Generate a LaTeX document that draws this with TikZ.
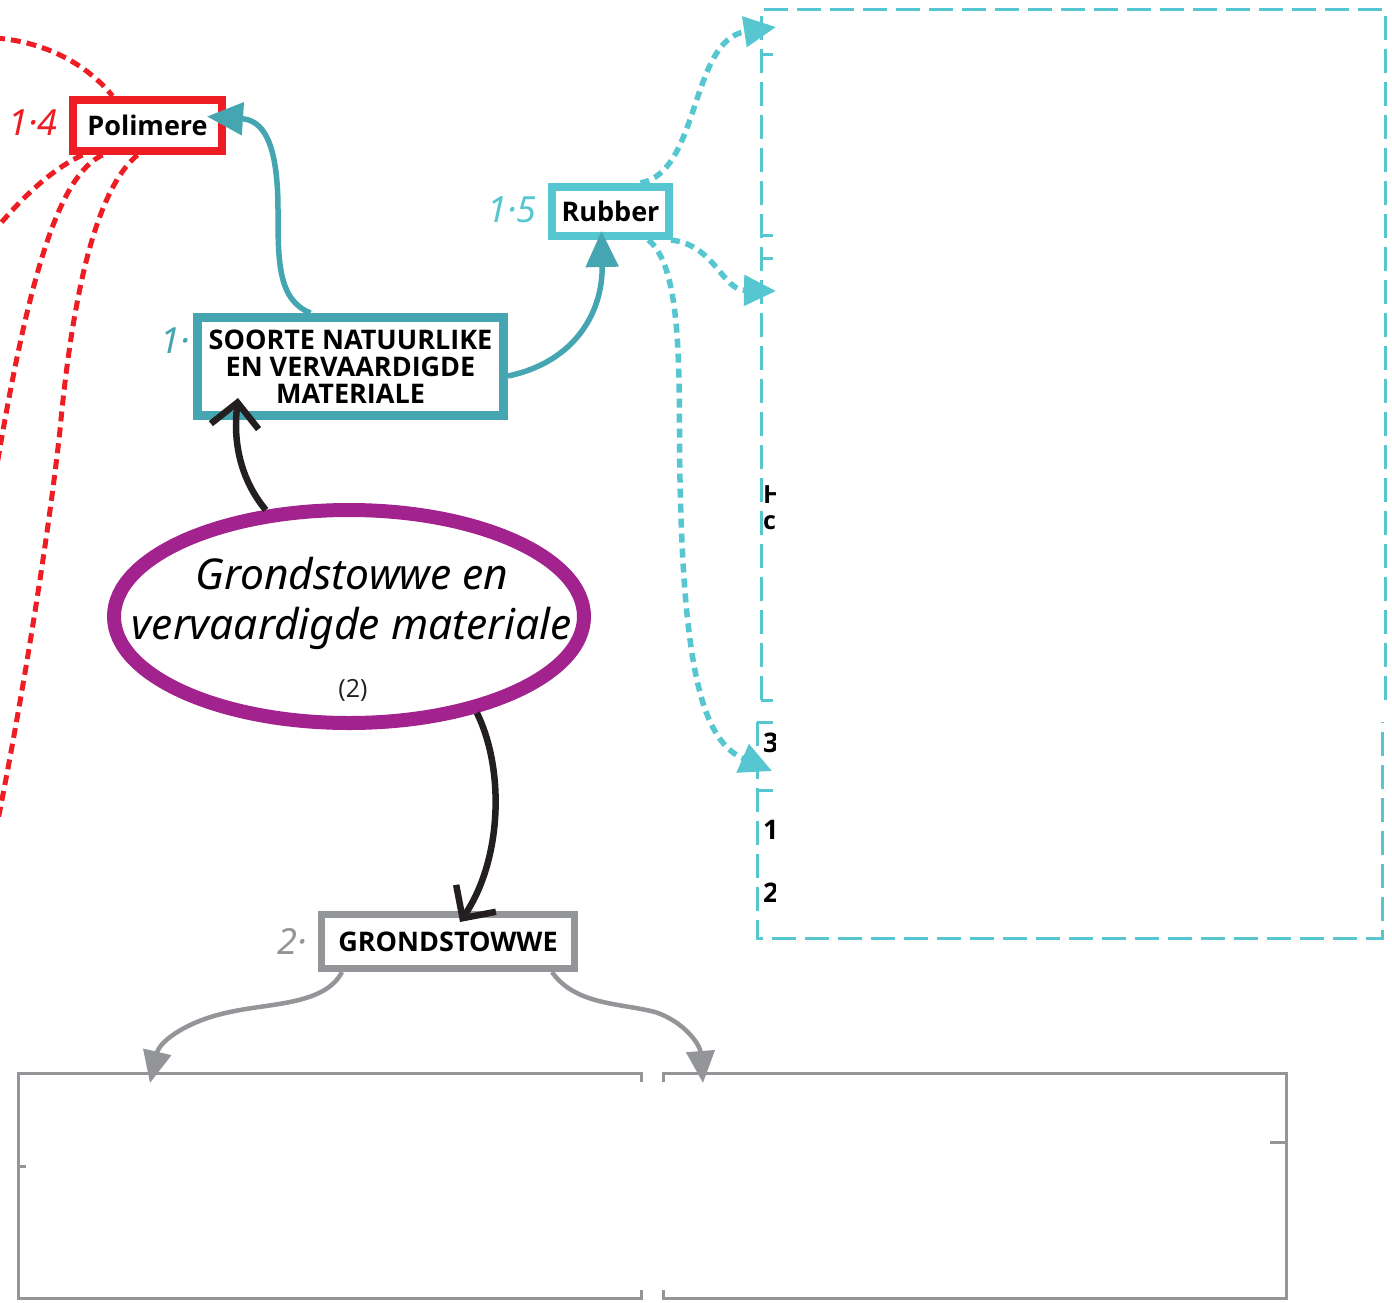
\documentclass[tikz,border=0pt]{standalone}
\usepackage{fontspec}
\setmainfont{Open Sans}
\newfontfamily\handfont{Noto Sans}
\usetikzlibrary{arrows.meta,shapes.geometric}
\definecolor{cred}{HTML}{EE1D23}
\definecolor{cteal}{HTML}{45A5B0}
\definecolor{ccyan}{HTML}{56C6D0}
\definecolor{cgray}{HTML}{939598}
\definecolor{cpurp}{HTML}{A2238E}
\definecolor{cblk}{HTML}{231F20}
\tikzset{
  box/.style={draw, fill=white, inner sep=0pt, align=center, text=black,
    font=\fontsize{27}{27}\selectfont\bfseries},
  numlbl/.style={font=\handfont\fontsize{36}{36}\selectfont\itshape, inner sep=0pt},
  tealarr/.style={draw=cteal, line width=5.5pt, -{Triangle[length=36pt,width=32pt]}},
  cyanarr/.style={draw=ccyan, line width=5.5pt, dash pattern=on 9pt off 6pt,
    -{Triangle[length=32pt,width=30pt]}},
  grayarr/.style={draw=cgray, line width=4.5pt, -{Triangle[length=32pt,width=28pt]}},
  blkarr/.style={draw=cblk, line width=6.5pt,
    -{Straight Barb[length=24pt,width=48pt,line width=6.5pt]}},
  reddot/.style={draw=cred, line width=5pt, dash pattern=on 10pt off 6pt},
  frame/.style={draw=ccyan, line width=3pt, dash pattern=on 24pt off 9pt},
  tick/.style={draw=ccyan, line width=3pt},
  gframe/.style={draw=cgray, line width=3pt},
  frag/.style={inner sep=0pt, font=\fontsize{27}{27}\selectfont\bfseries},
}
\begin{document}
\begin{tikzpicture}[x=1pt,y=-1pt]
\useasboundingbox[fill=white] (0,0) rectangle (1392,1303);

% ---- dashed cyan frames (right) ----
\draw[frame] (761,700) -- (761,10) -- (1385,10) -- (1385,700);
\draw[tick] (761,55) -- (773,55);
\draw[tick] (761,235) -- (773,235);
\draw[tick] (761,258) -- (773,258);
\draw[tick] (761,700) -- (773,700);
\draw[frame] (757,722) -- (757,938) -- (1382,938) -- (1382,722);
\draw[tick] (757,722) -- (773,722);
\draw[tick] (757,790) -- (773,790);
\begin{scope}
  \clip (762,460) rectangle (775,910);
  \node[frag, anchor=base west] (g3) at (763,752) {3};
  \node[frag, anchor=base west] (g1) at (763,839) {1};
  \node[frag, anchor=base west] (g2) at (763,902) {2};
  \node[frag, anchor=north west, align=left, font=\fontsize{25}{26}\selectfont\bfseries] (ghc) at (763,485) {H\\c};
\end{scope}

% ---- bottom gray frames ----
\draw[gframe] (641,1082) -- (641,1073) -- (18,1073) -- (18,1298) -- (641,1298) -- (641,1290);
\draw[gframe] (18,1166) -- (26,1166);
\draw[gframe] (663,1082) -- (663,1073) -- (1286,1073) -- (1286,1298) -- (663,1298) -- (663,1290);
\draw[gframe] (1270,1142) -- (1286,1142);

% ---- nodes ----
\node[box, draw=cred, line width=8pt, minimum width=149pt, minimum height=51pt] (pol) at (147.5,125.5) {Polimere};
\node[box, draw=cteal, line width=9pt, minimum width=306pt, minimum height=98pt] (soort) at (350.5,366.5) {SOORTE NATUURLIKE\\EN VERVAARDIGDE\\MATERIALE};
\node[box, draw=ccyan, line width=8pt, minimum width=117pt, minimum height=49pt] (rub) at (610.5,211.5) {Rubber};
\node[box, draw=cgray, line width=7pt, minimum width=253pt, minimum height=54pt] (grond) at (448,941.5) {GRONDSTOWWE};
\node[ellipse, draw=cpurp, fill=white, line width=14pt, minimum width=470pt, minimum height=213pt, inner sep=0pt] (ell) at (349,616.5) {};
\node[font=\handfont\itshape\fontsize{42.5}{50}\selectfont, align=center, inner sep=0pt] (etext) at (352,603) {Grondstowwe en\\vervaardigde materiale};
\node[font=\fontsize{25}{25}\selectfont, text=cblk, inner sep=0pt] (enum) at (353,690) {(2)};

\node[numlbl, text=cred] (l14) at (33,123) {1·4};
\node[numlbl, text=cteal] (l1) at (175,341) {1·};
\node[numlbl, text=ccyan] (l15) at (512,210) {1·5};
\node[numlbl, text=cgray] (l2) at (292,941) {2·};

% ---- free ends ----
\coordinate (r1) at (-5,38);
\coordinate (r2) at (-5,230);
\coordinate (r3) at (-3,465);
\coordinate (r4) at (-3,825);
\coordinate (ta) at (776,27);
\coordinate (tb) at (776,291);
\coordinate (tc) at (772,771);
\coordinate (gl) at (150,1083);
\coordinate (gr) at (703,1083);

% ---- red dotted ----
\draw[reddot] (r1) .. controls (50,42) and (90,68) .. ([xshift=-35pt]pol.north);
\draw[reddot] ([xshift=-65pt]pol.south) .. controls (50,170) and (20,200) .. (r2);
\draw[reddot] ([xshift=-45pt]pol.south) .. controls (60,175) and (30,270) .. (r3);
\draw[reddot] ([xshift=-10pt]pol.south) .. controls (95,190) and (72,300) .. (60,430)
  .. controls (48,540) and (22,700) .. (r4);

% ---- teal arrows ----
\draw[tealarr] ([xshift=-40pt]soort.north) .. controls (278,300) and (278,262) .. (278,210)
  .. controls (278,140) and (262,120) .. ([xshift=-19pt,yshift=9pt]pol.east);
\draw[tealarr] ([yshift=-9.5pt]soort.east) .. controls (575,362) and (603,312) .. ([xshift=-9pt,yshift=9pt]rub.south);

% ---- cyan dotted arrows ----
\draw[cyanarr] ([xshift=30pt]rub.north) .. controls (700,172) and (690,40) .. (ta);
\draw[cyanarr] ([xshift=-2pt]rub.south east) .. controls (715,245) and (722,290) .. (tb);
\draw[cyanarr] ([xshift=38pt]rub.south) .. controls (685,270) and (678,390) .. (680,480)
  .. controls (684,680) and (705,742) .. (tc);

% ---- black arrows ----
\coordinate (ua) at (238,398);
\coordinate (da) at (460,922);
\draw[blkarr] (ell.128) .. controls (245,485) and (232,450) .. (ua);
\draw[blkarr] (ell.-37) .. controls (505,770) and (502,860) .. (da);

% ---- gray arrows ----
\draw[grayarr] ([xshift=-106pt]grond.south) .. controls (325,1005) and (270,1003) .. (230,1012)
  .. controls (190,1020) and (160,1040) .. (gl);
\draw[grayarr] ([xshift=104pt]grond.south) .. controls (575,1005) and (620,1003) .. (655,1012)
  .. controls (685,1022) and (700,1045) .. (gr);
\end{tikzpicture}
\end{document}
